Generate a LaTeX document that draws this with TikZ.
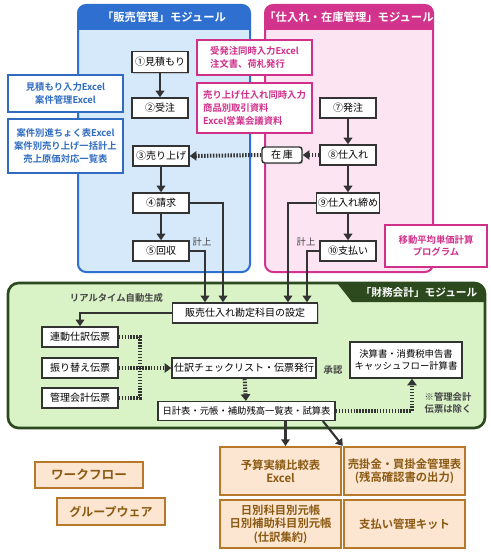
\documentclass[tikz,border=0pt]{standalone}
\usepackage{fontspec}
\setmainfont{Noto Sans CJK JP}[BoldFont={Noto Sans CJK JP Bold}]
\usetikzlibrary{arrows.meta,calc,shadows}
\definecolor{bluehead}{HTML}{2E6FCF}
\definecolor{bluefill}{HTML}{D5E9FB}
\definecolor{bluetext}{HTML}{2F6CC0}
\definecolor{pinkhead}{HTML}{D2338C}
\definecolor{pinkfill}{HTML}{FCE4F3}
\definecolor{pinktext}{HTML}{D02F8A}
\definecolor{greenfill}{HTML}{D9F2C6}
\definecolor{greenline}{HTML}{2C4A1D}
\definecolor{peachfill}{HTML}{FCE6D2}
\definecolor{brownline}{HTML}{B8782A}
\definecolor{browntext}{HTML}{8B5A12}
\definecolor{linegray}{HTML}{333333}
\definecolor{labelgray}{HTML}{444444}
\begin{document}
\begin{tikzpicture}[x=0.75pt,y=-0.75pt,
  font=\fontsize{7}{8.5}\selectfont,
  stepbox/.style={draw=linegray,line width=1.1pt,fill=white,minimum width=42pt,minimum height=15pt,inner sep=1pt,
    font=\fontsize{7.5}{9}\selectfont,drop shadow={shadow xshift=0.8pt,shadow yshift=-0.8pt,opacity=0.35}},
  bluebox/.style={draw=bluetext,line width=1.5pt,fill=white,text=bluetext,font=\fontsize{7}{9.5}\selectfont\bfseries,
    align=center,minimum width=86pt,inner sep=1pt},
  pinkbox/.style={draw=pinktext,line width=1.5pt,fill=white,text=pinktext,font=\fontsize{7}{9.5}\selectfont\bfseries,
    align=left,minimum width=86pt,inner sep=1pt},
  orangebox/.style={draw=brownline,line width=1.6pt,fill=peachfill,text=browntext,font=\fontsize{8.5}{10}\selectfont\bfseries,
    align=center,inner sep=1pt},
  headtext/.style={text=white,font=\fontsize{8.5}{10}\selectfont\bfseries},
  note/.style={text=labelgray,font=\fontsize{7}{8.5}\selectfont\bfseries},
  arr/.style={draw=linegray,line width=1.6pt,-{Triangle[length=5pt,width=6.5pt]}},
  dotline/.style={draw=linegray,line width=3pt,dash pattern=on 1.1pt off 1.1pt},
  dotarr/.style={dotline,-{Triangle[length=5pt,width=7pt]}}]
\useasboundingbox (0,0) rectangle (490,556);

% panels
\fill[bluefill,rounded corners=6pt] (78,5) rectangle (250,272);
\begin{scope}
\clip[rounded corners=6pt] (78,5) rectangle (250,272);
\fill[bluehead] (78,5) rectangle (250,30);
\end{scope}
\draw[bluehead,line width=1.5pt,rounded corners=6pt] (78,5) rectangle (250,272);
\node[headtext] (hanbaiT) at (164,17.5) {「販売管理」モジュール};

\fill[pinkfill,rounded corners=6pt] (265,5) rectangle (433,272);
\begin{scope}
\clip[rounded corners=6pt] (265,5) rectangle (433,272);
\fill[pinkhead] (265,5) rectangle (433,30);
\end{scope}
\draw[pinkhead,line width=1.5pt,rounded corners=6pt] (265,5) rectangle (433,272);
\node[headtext] (shiireT) at (349,17.5) {「仕入れ・在庫管理」モジュール};

\fill[greenfill,rounded corners=8pt] (8,283) rectangle (485,428);
\begin{scope}
\clip[rounded corners=8pt] (8,283) rectangle (485,428);
\fill[greenline] (337,283) -- (485,283) -- (485,302) -- (352,302) -- cycle;
\end{scope}
\draw[greenline,line width=2pt,rounded corners=8pt] (8,283) rectangle (485,428);
\node[headtext,font=\fontsize{8}{10}\selectfont\bfseries] (zaimuT) at (419,292.5) {「財務会計」モジュール};

% hanbai
\node[stepbox,minimum height=16pt] (n1) at (160,62) {①見積もり};
\node[stepbox] (n2) at (160,108) {②受注};
\node[stepbox] (n3) at (161,156) {③売り上げ};
\node[stepbox] (n4) at (161,203) {④請求};
\node[stepbox] (n5) at (161,251) {⑤回収};
\node[bluebox,minimum height=28pt] (bx1) at (65.5,93.5) {見積もり入力Excel\\案件管理Excel};
\node[bluebox,minimum height=41pt] (bx2) at (65.5,146) {案件別進ちょく表Excel\\案件別売り上げ一括計上\\売上原価対応一覧表};

% shiire
\node[pinkbox,minimum height=26pt] (px1) at (254.5,57.5) {受発注同時入力Excel\\注文書、荷札発行};
\node[pinkbox,minimum height=38pt] (px2) at (254.5,108) {売り上げ仕入れ同時入力\\商品別取引資料\\Excel営業会議資料};
\node[stepbox] (n7) at (348,108) {⑦発注};
\node[stepbox] (n8) at (348,155) {⑧仕入れ};
\node[stepbox] (n9) at (348,203) {⑨仕入れ締め};
\node[stepbox] (n10) at (348,251) {⑩支払い};
\node[stepbox,minimum width=30pt,minimum height=12pt,rounded corners=2pt] (zaiko) at (282,155) {在\,庫};
\node[pinkbox,align=center,minimum width=76pt,minimum height=31pt] (px3) at (436,246) {移動平均単価計算\\プログラム};

% zaimu
\node[stepbox,minimum width=109pt] (kanjo) at (245,313) {販売仕入れ勘定科目の設定};
\node[note] (rt) at (116.5,298) {リアルタイム自動生成};
\node[note,font=\fontsize{7}{8.5}\selectfont] (keijo1) at (202,242) {計上};
\node[note,font=\fontsize{7}{8.5}\selectfont] (keijo2) at (306,242) {計上};
\node[stepbox,minimum width=57pt] (d1) at (80,337) {連動仕訳伝票};
\node[stepbox,minimum width=57pt] (d2) at (80,368) {振り替え伝票};
\node[stepbox,minimum width=57pt] (d3) at (80,398) {管理会計伝票};
\node[stepbox,minimum width=108pt] (chk) at (244,368) {仕訳チェックリスト・伝票発行};
\node[stepbox,minimum width=133pt,minimum height=14pt,font=\fontsize{7}{8.5}\selectfont] (nikkei) at (246.5,411) {日計表・元帳・補助残高一覧表・試算表};
\node[note] (shonin) at (333,370) {承認};
\node[stepbox,minimum width=84pt,minimum height=27pt,align=center,font=\fontsize{7}{9}\selectfont] (kessan) at (406,360) {決算書・消費税申告書\\キャッシュフロー計算書};
\node[note,align=right] (jogai) at (448,403) {※管理会計\\伝票は除く};

% bottom
\node[orangebox,minimum width=81pt,minimum height=20pt,font=\fontsize{9.5}{11}\selectfont\bfseries] (wf) at (89,475) {ワークフロー};
\node[orangebox,minimum width=81pt,minimum height=20pt,font=\fontsize{9}{11}\selectfont\bfseries] (gw) at (111,511.5) {グループウェア};
\node[orangebox,minimum width=91pt,minimum height=36pt] (yosan) at (280.5,471) {予算実績比較表\\Excel};
\node[orangebox,minimum width=91pt,minimum height=36pt] (urikake) at (404.5,471) {売掛金・買掛金管理表\\(残高確認書の出力)};
\node[orangebox,minimum width=91pt,minimum height=36pt] (nichibetsu) at (280.5,524) {日別科目別元帳\\日別補助科目別元帳\\(仕訳集約)};
\node[orangebox,minimum width=91pt,minimum height=36pt] (shiharai) at (404.5,524) {支払い管理キット};

% connectors
\draw[arr] (n1) -- (n2);
\draw[arr] (n3) -- (n4);
\draw[arr] (n4) -- (n5);
\draw[arr] (n7) -- (n8);
\draw[arr] (n8) -- (n9);
\draw[arr] (n9) -- (n10);
\draw[dotarr] (n8.west) -- (zaiko.east);
\draw[dotarr] (zaiko.west) -- (n3.east);
\draw[arr] (n4.east) -| ($(kanjo.north)+(-22,0)$);
\draw[arr] (n5.east) -| ($(kanjo.north)+(-40,0)$);
\draw[arr] (n9.west) -| ($(kanjo.north)+(43,0)$);
\draw[arr] (n10.west) -| ($(kanjo.north)+(62,0)$);
\draw[arr] (kanjo.west) -| (d1.north);
\coordinate (jn) at (140,368);
\draw[dotline] (d1.east) -| (jn);
\draw[dotline] (d3.east) -| (jn);
\draw[dotarr] (d2.east) -- (chk.west);
\draw[dotarr] (chk) -- (nikkei);
\draw[dotarr] (nikkei.east) -| ($(kessan.south)+(6,0)$);
\draw[arr] ($(nikkei.south)+(39,0)$) -- ($(yosan.north)+(5,0)$);
\draw[arr] ($(nikkei.south east)+(-13,0)$) -- (urikake.north west);
\end{tikzpicture}
\end{document}
